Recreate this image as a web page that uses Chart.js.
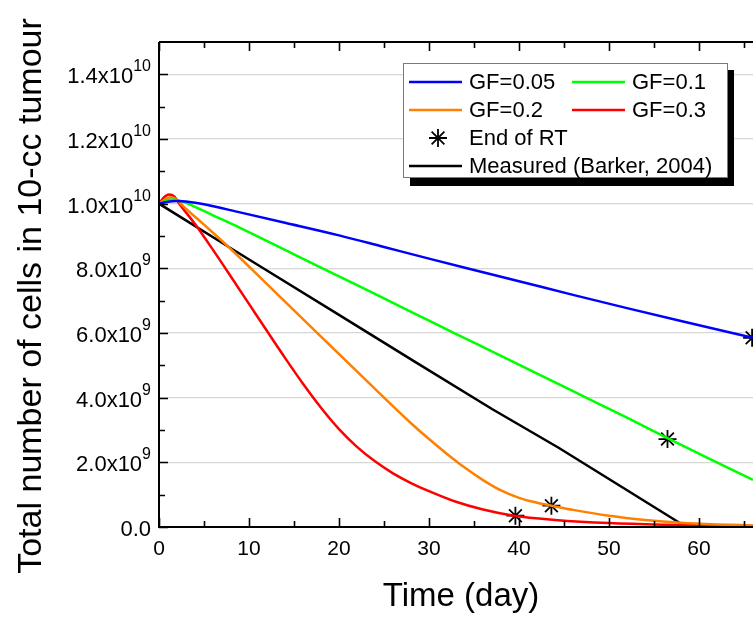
<!DOCTYPE html>
<html>
<head>
<meta charset="utf-8">
<script src="https://cdn.jsdelivr.net/npm/chart.js@4.4.1/dist/chart.umd.min.js"></script>
<style>
  html, body { margin: 0; padding: 0; background: #fff; }
  #wrap { width: 753px; height: 618px; position: relative; overflow: hidden; }
</style>
</head>
<body>
<div id="wrap"><canvas id="cellsChart" width="753" height="618"></canvas></div>
<script>
// values are in units of 1e9 cells
const gf005 = [[0,10],[1,10.06],[2,10.08],[3,10.07],[5,9.98],[9,9.73],[14,9.41],[20,9.02],[25,8.66],[30,8.3],[36,7.88],[41,7.53],[46,7.18],[52,6.77],[58,6.37],[66,5.85]];
const gf01  = [[0,10],[0.8,10.09],[1.6,10.13],[2.5,10.08],[4,9.9],[6,9.64],[9,9.25],[15,8.43],[20,7.75],[25,7.07],[30,6.38],[35,5.7],[41,4.88],[46,4.2],[52,3.38],[56.5,2.75],[61,2.13],[66,1.46]];
const gf02  = [[0,10],[0.6,10.12],[1.3,10.2],[2,10.12],[2.6,9.95],[5,9.35],[8,8.59],[12,7.51],[16,6.43],[20,5.35],[24,4.27],[28,3.21],[30,2.72],[32,2.26],[34,1.83],[36,1.45],[38,1.13],[40,0.9],[42,0.75],[43.6,0.66],[46,0.53],[50,0.35],[54,0.22],[58,0.13],[62,0.08],[66,0.05]];
const gf03  = [[0,10],[0.5,10.18],[1.1,10.28],[1.7,10.22],[2.25,10.0],[4,9.37],[6,8.57],[8,7.74],[10,6.9],[12,6.06],[14,5.23],[16,4.43],[18,3.69],[20,3.03],[22,2.48],[24,2.03],[26,1.66],[28,1.36],[30,1.11],[33,0.78],[36,0.54],[39.6,0.34],[44,0.22],[50,0.12],[56,0.07],[66,0.03]];
const measured = [[0,10],[7.4,8.72],[11.9,7.95],[20,6.56],[28.5,5.1],[37,3.65],[44.4,2.45],[52.1,1.12],[58,0.1]];
const endOfRT  = [[39.6,0.35],[43.6,0.66],[56.5,2.72],[65.9,5.85]];

const xTicks = [0, 10, 20, 30, 40, 50, 60];
const xMinor = [5, 15, 25, 35, 45, 55, 65];
const yTicks = [0, 2, 4, 6, 8, 10, 12, 14];
const yMinor = [1, 3, 5, 7, 9, 11, 13];
const yMant  = ['0.0', '2.0', '4.0', '6.0', '8.0', '1.0', '1.2', '1.4'];
const yExp   = ['', '9', '9', '9', '9', '10', '10', '10'];

const FONT = '"Liberation Sans", Arial, sans-serif';
const pts = arr => arr.map(([x, y]) => ({ x, y }));

function line(label, data, color, smooth) {
  return {
    label, data: pts(data), borderColor: color, backgroundColor: color,
    borderWidth: 2.5, pointRadius: 0, fill: false,
    tension: smooth ? 0.4 : 0, cubicInterpolationMode: smooth ? 'monotone' : 'default'
  };
}

// axes, ticks, labels and titles drawn by hand to match the original look
const framePlugin = {
  id: 'frame',
  afterDatasetsDraw(chart) {
    const { ctx, chartArea: a, scales: { x, y } } = chart;
    ctx.save();
    ctx.strokeStyle = '#000';
    ctx.lineWidth = 2;
    ctx.beginPath();
    ctx.moveTo(a.left, a.top); ctx.lineTo(a.left, a.bottom); ctx.lineTo(a.right + 2, a.bottom);
    ctx.moveTo(a.left, a.top); ctx.lineTo(a.right + 2, a.top);
    ctx.stroke();

    ctx.lineWidth = 1.6;
    ctx.beginPath();
    xTicks.concat(xMinor).forEach(v => {
      const px = Math.round(x.getPixelForValue(v)) + 0.5;
      const len = xTicks.includes(v) ? 9 : 6;
      ctx.moveTo(px, a.bottom); ctx.lineTo(px, a.bottom - len);
      ctx.moveTo(px, a.top); ctx.lineTo(px, a.top + len);
    });
    yTicks.concat(yMinor).forEach(v => {
      const py = Math.round(y.getPixelForValue(v)) + 0.5;
      const len = yTicks.includes(v) ? 9 : 6;
      ctx.moveTo(a.left, py); ctx.lineTo(a.left + len, py);
    });
    ctx.stroke();

    ctx.fillStyle = '#000';
    ctx.textBaseline = 'alphabetic';
    ctx.font = '21px ' + FONT;
    ctx.textAlign = 'center';
    xTicks.forEach(v => ctx.fillText(String(v), x.getPixelForValue(v), a.bottom + 28));

    yTicks.forEach((v, i) => {
      const py = y.getPixelForValue(v);
      const right = 151;
      ctx.font = '16px ' + FONT;
      const supW = yExp[i] ? ctx.measureText(yExp[i]).width : 0;
      ctx.textAlign = 'right';
      if (yExp[i]) ctx.fillText(yExp[i], right, py - 3);
      ctx.font = '22px ' + FONT;
      const main = yExp[i] ? yMant[i] + 'x10' : yMant[i];
      ctx.fillText(main, right - supW, py + 9);
    });

    ctx.font = '33px ' + FONT;
    ctx.textAlign = 'center';
    ctx.fillText('Time (day)', 461, 606);
    ctx.font = '34px ' + FONT;
    ctx.translate(41, 296);
    ctx.rotate(-Math.PI / 2);
    ctx.fillText('Total number of cells in 10-cc tumour', 0, 0);
    ctx.restore();
  },
  afterDraw(chart) {
    const { ctx } = chart;
    const ds = chart.data.datasets;
    ctx.save();
    // shadow + box
    ctx.fillStyle = '#000';
    ctx.fillRect(410, 70, 324, 116);
    ctx.fillStyle = '#fff';
    ctx.fillRect(403, 63, 325, 115);
    ctx.strokeStyle = '#7a7a7a';
    ctx.lineWidth = 1;
    ctx.strokeRect(403.5, 63.5, 324, 114);

    const rows = [
      [[ds[0], 409, 82], [ds[1], 572, 82]],
      [[ds[2], 409, 110], [ds[3], 572, 110]],
      [[ds[5], 409, 138]],
      [[ds[4], 409, 166]]
    ];
    ctx.font = '22px ' + FONT;
    ctx.textBaseline = 'middle';
    ctx.textAlign = 'left';
    rows.flat().forEach(([d, lx, ly]) => {
      if (d.showLine === false) {
        drawStar(ctx, lx + 29, ly, 9);
      } else {
        ctx.strokeStyle = d.borderColor;
        ctx.lineWidth = 2.5;
        ctx.beginPath(); ctx.moveTo(lx, ly); ctx.lineTo(lx + 53, ly); ctx.stroke();
      }
      ctx.fillStyle = '#000';
      ctx.fillText(d.label, lx + 60, ly + 1);
    });
    ctx.restore();
  }
};

function drawStar(ctx, cx, cy, r) {
  ctx.save();
  ctx.strokeStyle = '#000';
  ctx.lineWidth = 1.8;
  ctx.beginPath();
  for (let k = 0; k < 4; k++) {
    const ang = k * Math.PI / 4;
    ctx.moveTo(cx - r * Math.sin(ang), cy - r * Math.cos(ang));
    ctx.lineTo(cx + r * Math.sin(ang), cy + r * Math.cos(ang));
  }
  ctx.stroke();
  ctx.restore();
}

new Chart(document.getElementById('cellsChart'), {
  type: 'scatter',
  data: {
    datasets: [
      line('GF=0.05', gf005, '#0000ff', true),
      line('GF=0.1', gf01, '#00ff00', true),
      line('GF=0.2', gf02, '#ff8000', true),
      line('GF=0.3', gf03, '#ff0000', true),
      line('Measured (Barker, 2004)', measured, '#000000', false),
      {
        label: 'End of RT', data: pts(endOfRT), showLine: false,
        pointStyle: 'star', pointRadius: 9, borderColor: '#000', borderWidth: 1.8,
        backgroundColor: '#000', clip: false
      }
    ].map(d => Object.assign({ showLine: true }, d))
  },
  options: {
    responsive: false,
    animation: false,
    devicePixelRatio: 1,
    layout: { autoPadding: false, padding: { top: 42, right: 0, left: 0, bottom: 0 } },
    plugins: { legend: { display: false }, tooltip: { enabled: false } },
    scales: {
      x: {
        type: 'linear', min: 0, max: 66,
        ticks: { display: false },
        grid: { display: false },
        border: { display: false },
        afterFit: s => { s.height = 91; s.paddingLeft = 0; s.paddingRight = 0; }
      },
      y: {
        type: 'linear', min: 0, max: 15,
        afterBuildTicks: s => { s.ticks = yTicks.map(v => ({ value: v })); },
        ticks: { display: false },
        grid: { color: '#d6d6d6', lineWidth: 1.2, drawTicks: false },
        border: { display: false },
        afterFit: s => { s.width = 159; }
      }
    }
  },
  plugins: [framePlugin]
});
</script>
</body>
</html>
